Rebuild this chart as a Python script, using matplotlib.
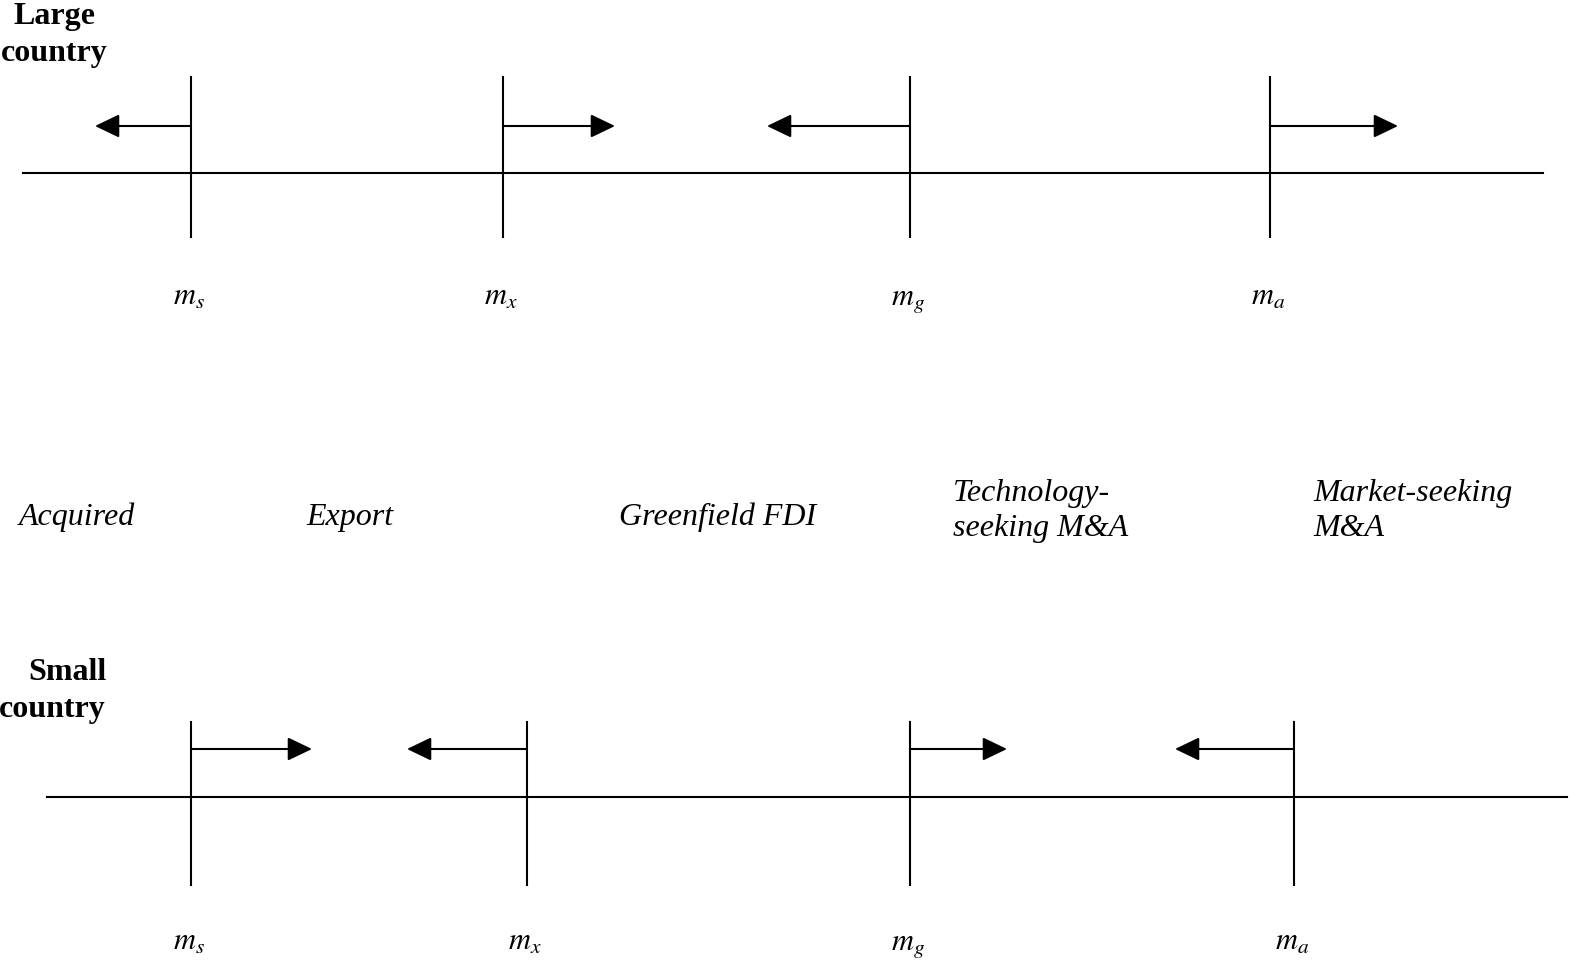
#!/usr/bin/env python3
import matplotlib.pyplot as plt

plt.rcParams['font.family'] = 'Liberation Serif'
plt.rcParams['mathtext.fontset'] = 'stix'

W, H = 1569, 965

# threshold labels shared by both panels
thresholds = ['s', 'x', 'g', 'a']

# large country: threshold positions and arrow tips
large_x = [191, 503, 910, 1270]
large_tip = [95, 615, 767, 1398]
# small country
small_x = [191, 527, 910, 1294]
small_tip = [312, 407, 1007, 1175]

regimes = ['Acquired', 'Export', 'Greenfield FDI',
           'Technology-\nseeking M&A', 'Market-seeking\nM&A']
regime_x = [19, 306, 619, 953, 1313]

fig = plt.figure(figsize=(W / 100, H / 100), dpi=100)
ax = fig.add_axes([0, 0, 1, 1])
ax.set_xlim(0, W)
ax.set_ylim(H, 0)
ax.axis('off')

lw = 1.5


def panel(xs, tips, line_y, x0, x1, v_top, v_bot, arrow_y, lab_y):
    ax.plot([x0, x1], [line_y, line_y], color='black', lw=lw)
    for x, tip, t in zip(xs, tips, thresholds):
        ax.plot([x, x], [v_top, v_bot], color='black', lw=lw)
        ax.annotate('', xy=(tip, arrow_y), xytext=(x, arrow_y),
                    arrowprops=dict(arrowstyle='-|>,head_length=0.75,head_width=0.36',
                                    mutation_scale=20, color='black', lw=lw,
                                    shrinkA=0, shrinkB=0))
        ax.text(x - 2, lab_y, r'$m_{%s}$' % t, fontsize=22,
                ha='center', va='baseline')


panel(large_x, large_tip, 173, 23, 1543, 77, 237, 126, 305)
panel(small_x, small_tip, 797, 47, 1567, 722, 885, 749, 950)

ax.text(54, 35, 'Large\ncountry', fontsize=23, fontweight='bold',
        ha='center', va='center', linespacing=1.35)
ax.text(106, 691, 'Small\ncountry', fontsize=23, fontweight='bold',
        ha='right', va='center', linespacing=1.35, multialignment='right')

for lab, x in zip(regimes, regime_x):
    y = 517 if '\n' not in lab else 511
    ax.text(x, y, lab, fontsize=23, style='italic', ha='left', va='center',
            linespacing=1.3)

plt.savefig('out.png', dpi=100)
